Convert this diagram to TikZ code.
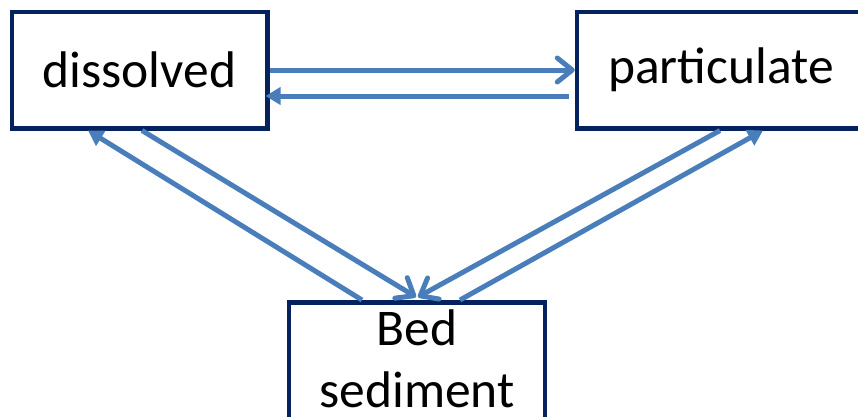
\documentclass[tikz,border=0pt]{standalone}
\usepackage{fontspec}
\setmainfont{Carlito}
\usetikzlibrary{arrows.meta}
\definecolor{boxblue}{RGB}{4,34,94}
\definecolor{arrowblue}{RGB}{74,126,187}
\begin{document}
\begin{tikzpicture}[x=1pt,y=-1pt,
  box/.style={draw=boxblue,line width=4.5pt,fill=white,rectangle,inner sep=0pt,
    font=\fontsize{51.5}{62}\selectfont,text=black},
  flow/.style={draw=arrowblue,line width=5pt},
  open/.style={flow,-{Straight Barb[length=15pt,width=24pt,line cap=round,line join=round]}},
  solid/.style={flow,-{Triangle[length=15pt,width=17pt]}}]
\useasboundingbox (0,0) rectangle (858,416);
\clip (0,0) rectangle (858,416);
\node[box,minimum width=255.5pt,minimum height=116.5pt] (dis) at (139.5,70) {dissolved};
\node[box,minimum width=288pt,minimum height=116.5pt] (par) at (721,70) {particulate};
\node[box,minimum width=256pt,minimum height=140pt,anchor=north,align=center,
  text height=105pt,text depth=35pt] (bed) at (417,300) {Bed\\sediment};
% horizontal
\draw[open] (dis.east) -- (par.west);
\draw[solid] ([xshift=-6pt,yshift=-26pt]par.west) -- ([xshift=-4pt,yshift=-26pt]dis.east);
% left diagonals
\draw[open] ([xshift=2.5pt]dis.south) -- ([xshift=-1pt,yshift=3pt]bed.north);
\draw[solid] ([xshift=-55pt]bed.north) -- ([xshift=-51.5pt]dis.south);
% right diagonals
\draw[open] ([xshift=-1pt]par.south) -- ([xshift=1pt,yshift=3pt]bed.north);
\draw[solid] ([xshift=43pt]bed.north) -- ([xshift=42pt]par.south);
\end{tikzpicture}
\end{document}
